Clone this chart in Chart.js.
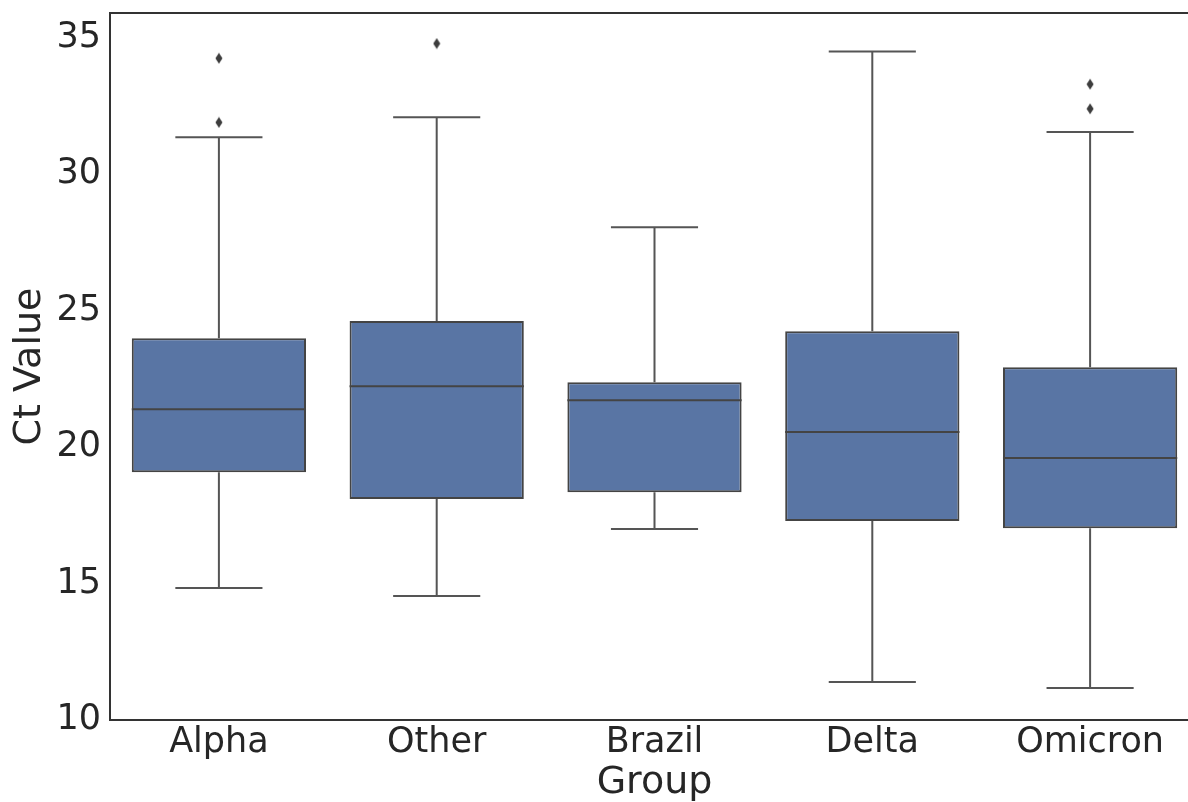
<!DOCTYPE html>
<html>
<head>
<meta charset="utf-8">
<script src="https://cdn.jsdelivr.net/npm/chart.js@4/dist/chart.umd.min.js"></script>
<style>
  html, body { margin: 0; padding: 0; background: #fff; overflow: hidden; }
  #chart { display: block; }
</style>
</head>
<body>
<canvas id="chart" width="1188" height="802"></canvas>
<script>
// Box plot data
const groups = ['Alpha', 'Other', 'Brazil', 'Delta', 'Omicron'];
const whiskerLow = [14.84, 14.54, 17.0, 11.39, 11.17];
const q1 = [19.08, 18.1, 18.35, 17.29, 17.03];
const median = [21.39, 22.23, 21.72, 20.55, 19.6];
const q3 = [23.99, 24.62, 22.38, 24.25, 22.93];
const whiskerHigh = [31.36, 32.09, 28.06, 34.5, 31.55];

// Outliers
const outlierGroup = ['Alpha', 'Alpha', 'Other', 'Omicron', 'Omicron'];
const outlierValue = [31.9, 34.25, 34.79, 32.4, 33.3];

// Y axis ticks
const yTicks = [10, 15, 20, 25, 30, 35];

const boxColor = '#5975a4';
const lineColor = '#444444';
const textColor = '#262626';

// the original figure is cut off a little before the right edge of the axes
const plotRight = 1199;

// Thin diamond marker for the fliers
function makeDiamond() {
    const c = document.createElement('canvas');
    c.width = 8;
    c.height = 12;
    const g = c.getContext('2d');
    g.fillStyle = '#3d3d3d';
    g.beginPath();
    g.moveTo(4, 0.5);
    g.lineTo(7.5, 6);
    g.lineTo(4, 11.5);
    g.lineTo(0.5, 6);
    g.closePath();
    g.fill();
    return c;
}

// Stretch the x axis past the canvas edge
const extendRight = {
    id: 'extendRight',
    afterLayout(chart) {
        const x = chart.scales.x;
        x.right = plotRight;
        x.width = x.right - x.left;
        chart.chartArea.right = plotRight;
        chart.chartArea.width = plotRight - chart.chartArea.left;
        x.configure();
        x._labelItems = null;
        x._gridLineItems = null;
    }
};

// Whiskers, caps and medians drawn with the chart's own scales
const boxExtras = {
    id: 'boxExtras',
    afterDatasetsDraw(chart) {
        const ctx = chart.ctx;
        const y = chart.scales.y;
        const bars = chart.getDatasetMeta(0).data;
        ctx.save();
        ctx.lineWidth = 2;
        bars.forEach((bar, i) => {
            const x = bar.x;
            const half = bar.width / 2;
            const cap = half / 2;
            // whiskers
            ctx.strokeStyle = '#555555';
            ctx.beginPath();
            ctx.moveTo(x, y.getPixelForValue(q3[i]));
            ctx.lineTo(x, y.getPixelForValue(whiskerHigh[i]));
            ctx.moveTo(x - cap, y.getPixelForValue(whiskerHigh[i]));
            ctx.lineTo(x + cap, y.getPixelForValue(whiskerHigh[i]));
            ctx.moveTo(x, y.getPixelForValue(q1[i]));
            ctx.lineTo(x, y.getPixelForValue(whiskerLow[i]));
            ctx.moveTo(x - cap, y.getPixelForValue(whiskerLow[i]));
            ctx.lineTo(x + cap, y.getPixelForValue(whiskerLow[i]));
            ctx.stroke();
            // median
            ctx.strokeStyle = lineColor;
            ctx.beginPath();
            ctx.moveTo(x - half, y.getPixelForValue(median[i]));
            ctx.lineTo(x + half, y.getPixelForValue(median[i]));
            ctx.stroke();
        });
        // top, left and bottom spines (the right one is outside the picture)
        const a = chart.chartArea;
        ctx.strokeStyle = '#333333';
        ctx.lineWidth = 2;
        ctx.beginPath();
        ctx.moveTo(a.right, a.top);
        ctx.lineTo(a.left, a.top);
        ctx.lineTo(a.left, a.bottom);
        ctx.lineTo(a.right, a.bottom);
        ctx.stroke();
        ctx.restore();
    }
};

new Chart(document.getElementById('chart'), {
    data: {
        labels: groups,
        datasets: [
            {
                type: 'bar',
                data: groups.map((_, i) => [q1[i], q3[i]]),
                backgroundColor: boxColor,
                borderColor: lineColor,
                borderWidth: 2,
                borderSkipped: false,
                barPercentage: 0.8,
                categoryPercentage: 1.0,
                order: 2
            },
            {
                type: 'line',
                data: outlierGroup.map((g, i) => ({ x: g, y: outlierValue[i] })),
                showLine: false,
                pointStyle: makeDiamond(),
                pointRadius: 5,
                clip: false,
                order: 1
            }
        ]
    },
    options: {
        responsive: false,
        animation: false,
        devicePixelRatio: 1,
        layout: { padding: { top: 13, right: 0, left: 0, bottom: 0 } },
        plugins: {
            legend: { display: false },
            tooltip: { enabled: false }
        },
        scales: {
            x: {
                type: 'category',
                grid: { display: false, drawTicks: false },
                border: { display: false },
                ticks: {
                    color: textColor,
                    padding: 2,
                    font: { family: 'DejaVu Sans', size: 35 }
                },
                title: {
                    display: true,
                    text: 'Group',
                    color: textColor,
                    padding: 0,
                    font: { family: 'DejaVu Sans', size: 38, lineHeight: 1 }
                },
                afterFit(scale) {
                    scale.height = 82;
                    scale.paddingLeft = 0;
                    scale.paddingRight = 0;
                }
            },
            y: {
                min: 10,
                max: 35.91,
                grid: { display: false, drawTicks: false },
                border: { display: false },
                ticks: {
                    color: textColor,
                    padding: 9,
                    font: { family: 'DejaVu Sans', size: 35 }
                },
                afterBuildTicks(scale) {
                    scale.ticks = yTicks.map(v => ({ value: v }));
                },
                title: {
                    display: true,
                    text: 'Ct Value',
                    color: textColor,
                    padding: { top: 11, bottom: 0 },
                    font: { family: 'DejaVu Sans', size: 38, lineHeight: 1 }
                },
                afterFit(scale) {
                    scale.width = 110;
                    scale.paddingTop = 0;
                    scale.paddingBottom = 0;
                }
            }
        }
    },
    plugins: [extendRight, boxExtras]
});
</script>
</body>
</html>
